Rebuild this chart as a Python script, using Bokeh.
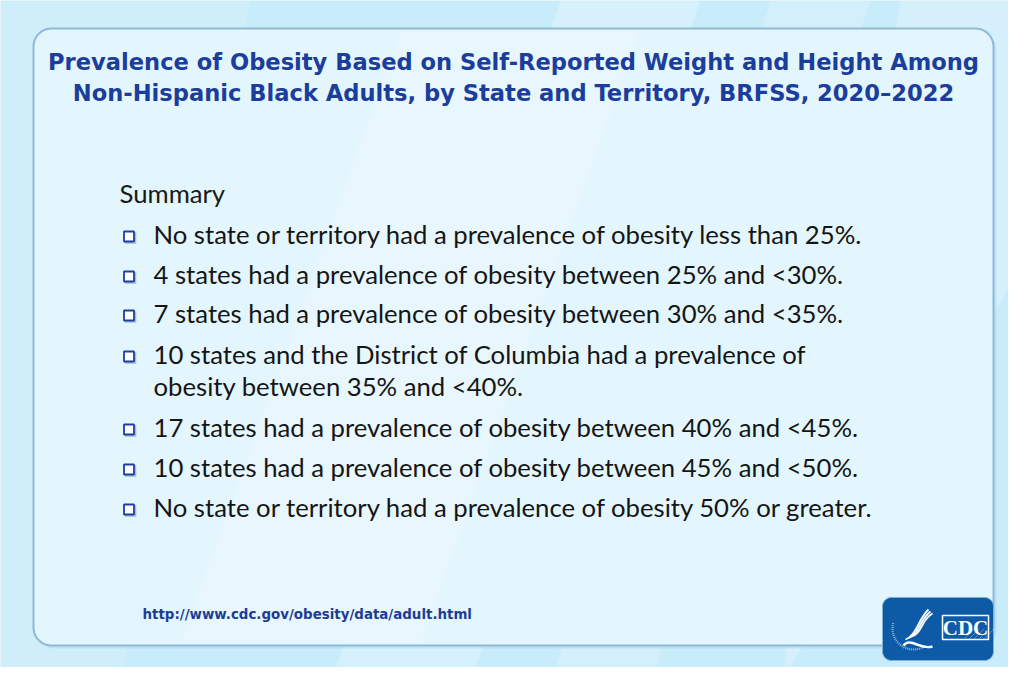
import numpy as np
from bokeh.plotting import figure
from bokeh.models import Range1d
from bokeh.core.properties import value
from bokeh.embed import file_html
from bokeh.resources import INLINE

# ---------------- content ----------------
title_lines = [
    "Prevalence of Obesity Based on Self-Reported Weight and Height Among",
    "Non-Hispanic Black Adults, by State and Territory, BRFSS, 2020\u20132022",
]
summary_heading = "Summary"
bullet_items = [
    ["No state or territory had a prevalence of obesity less than 25%."],
    ["4 states had a prevalence of obesity between 25% and <30%."],
    ["7 states had a prevalence of obesity between 30% and <35%."],
    ["10 states and the District of Columbia had a prevalence of",
     "obesity between 35% and <40%."],
    ["17 states had a prevalence of obesity between 40% and <45%."],
    ["10 states had a prevalence of obesity between 45% and <50%."],
    ["No state or territory had a prevalence of obesity 50% or greater."],
]
source_url = "http://www.cdc.gov/obesity/data/adult.html"
logo_text = "CDC"

# ---------------- figure ----------------
W, H = 1008, 667
p = figure(width=W, height=H, output_backend="svg", toolbar_location=None,
           x_range=Range1d(0, W), y_range=Range1d(H, 0),
           min_border=0, outline_line_color=None)
p.axis.visible = False
p.grid.visible = False
p.background_fill_color = "#c9ecfa"
p.border_fill_color = "#c9ecfa"

# background diagonal light streaks
streaks = [
    ([560, 700, 470, 330], [0, 0, 683, 683], 0.25),
    ([770, 870, 650, 550], [0, 0, 683, 683], 0.18),
    ([900, 1024, 1024, 780], [0, 0, 260, 683], 0.22),
    ([0, 250, 120, 0], [0, 0, 683, 683], 0.12),
]
for xs, ys, a in streaks:
    p.patch(xs, ys, fill_color="white", fill_alpha=a, line_color=None)


def rounded_rect(x0, y0, x1, y1, r, n=12):
    xs, ys = [], []
    corners = [(x1 - r, y0 + r, -90, 0), (x1 - r, y1 - r, 0, 90),
               (x0 + r, y1 - r, 90, 180), (x0 + r, y0 + r, 180, 270)]
    for cx, cy, a0, a1 in corners:
        t = np.radians(np.linspace(a0, a1, n))
        xs += list(cx + r * np.cos(t))
        ys += list(cy + r * np.sin(t))
    return xs, ys


# panel shadow + panel
sx, sy = rounded_rect(35, 31, 996, 648, 18)
p.patch(sx, sy, fill_color="#9fcde6", fill_alpha=0.35, line_color=None)
px, py = rounded_rect(33, 28, 993, 645, 18)
p.patch(px, py, fill_color="#e3f5fd", line_color="#8fb9d9", line_width=2)
p.patch([400, 640, 420, 180], [30, 30, 643, 643], fill_color="white",
        fill_alpha=0.18, line_color=None)

# title
title_y = [61, 92]
p.text(x=[513] * 2, y=title_y, text=title_lines, text_font=value("DejaVu Sans"),
       text_font_style="bold", text_font_size=value("22.6px"), text_color="#1b3d9b",
       text_align="center", text_baseline="middle")

# summary heading
p.text(x=[119], y=[192], text=[summary_heading], text_font=value("Lato"),
       text_font_size=value("25.7px"), text_color="#1a1a1a",
       text_align="left", text_baseline="middle")

# bullets
bullet_start = [233, 273, 312, 353, 426, 466, 506]
line_step = 32
tx, ty, tt, bx, by = [], [], [], [], []
for y0, lines in zip(bullet_start, bullet_items):
    bx.append(128.5)
    by.append(y0 + 3)
    for k, line in enumerate(lines):
        tx.append(153)
        ty.append(y0 + k * line_step)
        tt.append(line)

p.scatter(x=[b + 1.5 for b in bx], y=[b + 1.5 for b in by], marker="square", size=10,
          fill_color=None, line_color="#6d7f99", line_alpha=0.5, line_width=1.5)
p.scatter(x=bx, y=by, marker="square", size=10, fill_color="white",
          line_color="#1e3ea0", line_width=1.8)
p.text(x=tx, y=ty, text=tt, text_font=value("Lato"), text_font_size=value("25.7px"),
       text_color="#151515", text_align="left", text_baseline="middle")

# url
p.text(x=[142], y=[614], text=[source_url], text_font=value("DejaVu Sans"),
       text_font_style="bold", text_font_size=value("13.4px"), text_color="#1d3c96",
       text_align="left", text_baseline="middle")

# CDC logo
lx, ly = rounded_rect(882, 597, 993, 660, 9)
p.patch(lx, ly, fill_color="#0d5aa7", line_color="#7fb0d8", line_width=1)
p.quad(left=[942], right=[988], top=[615], bottom=[639], fill_color=None,
       line_color="white", line_width=1.5)
for k in range(5):
    p.segment(x0=[964 + 5 * k], y0=[638], x1=[974 + 5 * k], y1=[628],
              line_color="white", line_width=0.6, line_alpha=0.5)
p.text(x=[965], y=[627], text=[logo_text], text_font=value("Liberation Serif"),
       text_font_style="bold", text_font_size=value("21px"), text_color="white",
       text_align="center", text_baseline="middle")
# stylized HHS emblem: ring of text + eagle strokes
p.arc(x=[913], y=[628], radius=21, start_angle=np.radians(165), end_angle=np.radians(300),
      direction="anticlock", line_color="white", line_width=2.2, line_alpha=0.55,
      line_dash="1 1")
for k in range(3):
    p.bezier(x0=[905 + 3 * k], y0=[639 - 1.5 * k], x1=[928 + 2 * k], y1=[609 + 2 * k],
             cx0=[916 + 3 * k], cy0=[635 - k], cx1=[918 + k], cy1=[618 + k],
             line_color="white", line_width=1.8)
p.bezier(x0=[903], y0=[645], x1=[932], y1=[646], cx0=[910], cy0=[636],
         cx1=[920], cy1=[650], line_color="white", line_width=2.4)

open("out.html", "w").write(file_html(p, INLINE))
